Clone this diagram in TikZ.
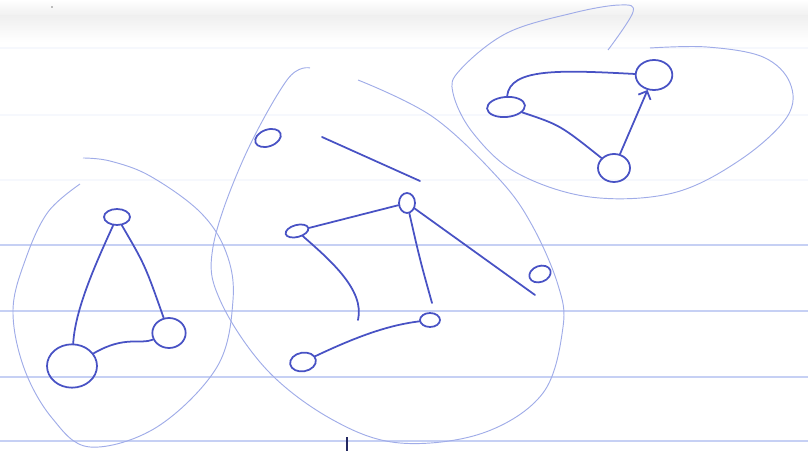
\documentclass[tikz,border=0pt]{standalone}
\usetikzlibrary{shapes.geometric, arrows.meta}
\definecolor{ink}{RGB}{72,82,196}
\definecolor{pale}{RGB}{160,172,232}
\definecolor{rule}{RGB}{198,208,244}
\tikzset{
  vert/.style={draw=ink, line width=1.5pt, ellipse, inner sep=0pt},
  edge/.style={draw=ink, line width=1.5pt, line cap=round},
  blob/.style={draw=pale, line width=0.8pt},
}

\begin{document}
\begin{tikzpicture}[x=0.3mm, y=-0.3mm]
\useasboundingbox (0,0) rectangle (808,451);
% paper
\shade[top color=white, bottom color=gray!12] (0,0) rectangle (808,16);
\shade[top color=gray!12, bottom color=white] (0,16) rectangle (808,42);
\foreach \y in {48,115,180} \draw[rule!15, line width=1.2pt] (0,\y) -- (808,\y);
\foreach \y in {245,311,377,441} \draw[rule, line width=1.6pt] (0,\y) -- (808,\y);
\draw[ink!50!black, line width=1pt] (347,437) -- (347,451);
\fill[gray] (52,7) circle (0.9);

% left group
\node[vert, minimum width=7.8mm, minimum height=4.8mm] (lt) at (117,217) {};
\node[vert, minimum width=15mm, minimum height=13mm] (lb) at (72,366) {};
\node[vert, minimum width=10mm, minimum height=9mm] (lr) at (169,333) {};
\draw[edge] (lt) .. controls (95,265) and (75,310) .. (lb);
\draw[edge] (lt) .. controls (145,265) .. (lr);
\draw[edge] (lb) .. controls (125,335) and (140,345) .. (lr);

% middle group
\node[vert, minimum width=8mm, minimum height=5mm, rotate=20] (ma) at (268,138) {};
\node[vert, minimum width=4.8mm, minimum height=6mm] (mb) at (407,203) {};
\node[vert, minimum width=7mm, minimum height=3.6mm, rotate=15] (mc) at (297,231) {};
\node[vert, minimum width=6.6mm, minimum height=4.8mm, rotate=20] (md) at (540,274) {};
\node[vert, minimum width=6mm, minimum height=4.2mm] (me) at (430,320) {};
\node[vert, minimum width=7.8mm, minimum height=5.6mm, rotate=10] (mf) at (303,362) {};
\coordinate (s1) at (322,137);
\coordinate (s2) at (420,181);
\coordinate (c1) at (358,320);
\coordinate (c2) at (432,303);
\coordinate (c3) at (535,295);
\draw[edge] (s1) -- (s2);
\draw[edge] (mb) -- (mc);
\draw[edge] (mc) .. controls (330,260) and (365,290) .. (c1);
\draw[edge] (mb) .. controls (420,260) .. (c2);
\draw[edge] (mb) -- (c3);
\draw[edge] (mf) .. controls (360,335) and (390,325) .. (me);

% right group
\node[vert, minimum width=11.4mm, minimum height=6mm, rotate=5] (rg) at (506,107) {};
\node[vert, minimum width=11mm, minimum height=9mm] (rh) at (654,75) {};
\node[vert, minimum width=9.6mm, minimum height=8.4mm] (ri) at (614,168) {};
\draw[edge] (rg) .. controls (510,68) and (560,70) .. (rh);
\draw[edge] (rg) .. controls (560,125) .. (ri);
\draw[edge, -{Straight Barb[length=2mm]}] (ri) -- (rh);

% outlines
\draw[blob] plot[smooth, tension=0.6] coordinates {(80,184) (48,212) (26,258) (13,310) (24,368) (52,418) (90,447) (157,427) (217,367) (233,300) (226,252) (200,212) (150,176) (110,161) (83,158)};
\draw[blob] plot[smooth, tension=0.6] coordinates {(310,68) (287,80) (243,160) (213,247) (220,300) (267,370) (333,420) (400,443) (483,433) (543,393) (563,327) (558,285) (533,227) (500,180) (433,117) (358,80)};
\draw[blob] plot[smooth, tension=0.6] coordinates {(608,50) (633,12) (620,5) (573,13) (507,33) (460,70) (453,93) (473,133) (517,173) (590,197) (673,193) (740,160) (787,117) (790,83) (763,57) (707,47) (650,48)};
\end{tikzpicture}
\end{document}
